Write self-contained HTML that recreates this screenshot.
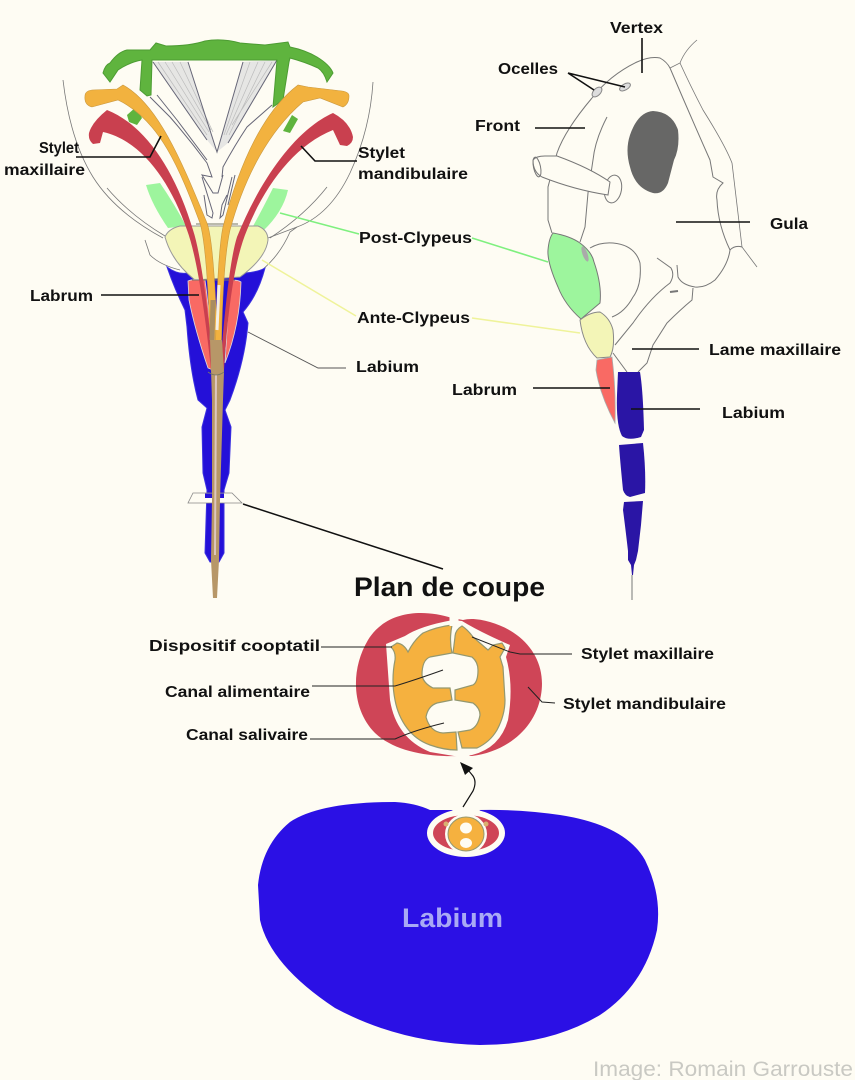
<!DOCTYPE html>
<html><head><meta charset="utf-8"><style>
html,body{margin:0;padding:0;background:#fefcf3}
svg{display:block}
text{font-family:"Liberation Sans",sans-serif;font-weight:bold;font-size:16px;fill:#111}
</style></head><body>
<svg width="855" height="1080" viewBox="0 0 855 1080" xmlns="http://www.w3.org/2000/svg">
<rect width="855" height="1080" fill="#fefcf3"/>

<!-- LEFT: outer arcs -->
<g fill="none" stroke="#777" stroke-width="0.8">
<path d="M63 80 Q70 140 93 177 Q115 212 163 238"/>
<path d="M107 188 Q130 215 165 236"/>
<path d="M145 240 L150 255 Q160 265 180 270"/>
<path d="M373 82 Q370 130 350 173 Q330 215 297 227 L268 238"/>
<path d="M327 187 Q305 215 270 238"/>
<path d="M297 227 L290 232 Q280 255 262 270"/>
</g>

<!-- blue labium, left -->
<path d="M167 267 Q178 275 188 273 L245 273 Q258 272 265 268 Q258 295 243 312 L248 323 Q245 360 230 400 L225 410 L231 427 L229 473 L224 490 L224 553 L219 562 L210 562 L205 553 L207 490 L203 473 L202 427 L207 408 L198 400 Q190 370 187 327 L185 310 Q175 290 167 267Z" fill="#2410d8" stroke="#3a30e0" stroke-width="1"/>

<!-- post clypeus left -->
<path d="M146 185 L160 183 Q175 205 186 226 L168 228 Q152 205 146 185Z" fill="#9df59d"/>
<path d="M288 190 L273 188 Q262 210 252 228 L263 231 Q283 212 288 190Z" fill="#9df59d"/>
<!-- ante clypeus -->
<path d="M165 237 Q168 229 180 226 L258 226 Q268 230 268 240 Q266 258 240 277 L195 280 Q172 262 165 237Z" fill="#f3f5b7" stroke="#999" stroke-width="1"/>

<!-- labrum left -->
<path d="M188 281 Q196 278 205 280 Q210 315 213 370 L208 368 Q195 330 189 300Z" fill="#f96a64" stroke="#ddd" stroke-width="0.8"/>
<path d="M230 281 Q236 279 241 282 Q240 325 225 363 Z" fill="#f96a64" stroke="#ddd" stroke-width="0.8"/>

<!-- fans -->
<path d="M153 62 L188 62 L217 152 L207 140 Z" fill="#e6e6e4"/>
<path d="M243 62 L277 60 L228 143 L217 152 Z" fill="#e6e6e4"/>
<g stroke="#bcbcbc" stroke-width="0.7" fill="none">
<path d="M158 62 L207 135M165 62 L209 132M172 62 L211 130M180 62 L213 132"/>
<path d="M250 62 L224 135M258 62 L226 135M265 62 L229 135M272 62 L232 125"/>
</g>
<g fill="none" stroke="#667" stroke-width="1">
<path d="M188 62 L217 152 L243 62"/>
<path d="M153 62 L207 140"/>
<path d="M277 60 L228 143"/>
<path d="M150 97 L170 117 Q190 140 207 163 L212 177 L202 175 L213 193 L218 193 L223 175 L222 177 L223 167 Q235 145 247 127 L272 105"/>
<path d="M157 95 L177 120 L207 160"/>
<path d="M202 177 L213 213 L212 218 L207 215 L204 195"/>
<path d="M232 177 L223 215 L220 218 L222 205 L227 195"/>
<path d="M235 175 L228 205"/>
<path d="M196 224 L238 224M192 280 L235 280" stroke="#776" />
</g>

<!-- green stubs -->
<path d="M127 115 L136 107 L142 118 L137 125 L129 122Z" fill="#5fb43e"/>
<path d="M283 131 L292 115 L298 119 L290 133Z" fill="#5fb43e"/>
<!-- green -->
<path d="M150 50 L156 43 L166 46 Q190 46 205 41 Q222 38 240 43 L265 45 L288 42 L290 47 Q305 50 317 57 Q330 65 333 73 L327 82 Q324 72 318 68 Q305 62 290 58 L289 62 L283 100 L273 107 L277 60 L152 60 L151 95 L147 96 L140 90 L142 60 Q130 62 118 70 L110 82 L103 73 Q105 65 110 63 Q118 52 127 50Z" fill="#5fb43e" stroke="#4d9c33" stroke-width="1"/>

<!-- orange stylets -->
<path d="M85 96 Q85 91 92 90 L117 89 L123 85 C160 105 185 170 207 223 Q215 245 218 370 L211 370 Q208 250 200 223 C180 170 160 120 118 100 L92 107 Q84 105 85 96Z" fill="#f2b23f" stroke="#c9983f" stroke-width="0.6"/>
<path d="M349 96 Q349 92 342 91 L308 87 L298 85 C265 110 240 160 223 227 Q217 255 215 370 L221 370 Q222 265 230 230 C245 175 270 130 303 102 L320 98 L343 107 Q349 104 349 96Z" fill="#f2b23f" stroke="#c9983f" stroke-width="0.6"/>
<!-- red stylets -->
<path d="M89 133 Q92 122 107 110 C145 125 175 170 193 230 Q203 260 214 370 L211 370 Q200 265 187 230 C170 180 140 140 103 132 L100 143 L93 144 Q88 140 89 133Z" fill="#c9404f"/>
<path d="M353 137 Q350 122 333 113 C295 130 260 180 237 237 Q228 265 220 370 L224 370 Q230 270 247 230 C265 185 295 145 333 130 L340 145 L347 146 Q353 143 353 137Z" fill="#c9404f"/>
<path d="M213 300 L212 340" stroke="#a98d62" stroke-width="5" fill="none"/>
<path d="M219 285 L217 330" stroke="#f4efe5" stroke-width="3" fill="none"/>

<!-- cut plane -->
<path d="M193 493 L232 493 L242 503 L188 503Z" fill="#fefcf3" stroke="#888" stroke-width="0.8"/>
<path d="M205 493.5 L224 493.5 L224 498 L205 498Z" fill="#2410d8"/>

<!-- central tube -->
<path d="M210 340 L222 340 L224 372 L223 400 L220 500 L219 560 L217 598 L213 598 L211 560 L212 500 L212 400 Z" fill="#b79768"/>
<path d="M216 375 L215 555" stroke="#ddc6c0" stroke-width="2" fill="none"/>
<path d="M208 372 Q216 378 224 372" fill="none" stroke="#776" stroke-width="0.8"/>

<!-- HEAD -->
<g fill="none" stroke="#777" stroke-width="1">
<path d="M592 98 Q610 75 637 62 Q650 56 660 58 Q667 62 670 68 Q690 115 710 160 L713 177 L723 183 Q715 190 717 200 Q718 225 730 250 Q728 265 715 280 Q705 288 695 287 Q682 285 678 277 L677 265"/>
<path d="M592 98 Q565 130 557 153 L548 187 L548 220 L552 233"/>
<path d="M607 117 Q595 140 593 160 L588 193 L585 227 L580 242"/>
<path d="M670 68 L680 63 Q685 50 697 40" stroke-width="0.8"/>
<path d="M680 63 Q690 85 703 110 Q725 145 732 163 L742 247 L757 267" stroke-width="0.8"/>
<path d="M730 250 Q735 245 742 247"/>
<path d="M590 248 Q600 242 613 243 Q635 245 640 263 Q642 285 633 297 Q625 312 612 317"/>
<path d="M657 258 L671 268 Q675 275 670 283 Q650 298 633 323 L615 345"/>
<path d="M693 288 L692 300 Q680 310 667 323 L653 345 L647 363 L638 372"/>
<path d="M670 292 L678 291" stroke-width="2"/>
<path d="M613 353 L627 372"/>
</g>
<!-- antenna -->
<ellipse cx="613" cy="189" rx="8.5" ry="14" transform="rotate(10 613 189)" fill="#fefcf3" stroke="#777"/>
<path d="M533 160 Q536 156 545 156 L557 156 Q590 168 610 182 L608 195 Q575 190 542 177 Q533 172 533 160Z" fill="#fefcf3" stroke="#777"/>
<ellipse cx="537" cy="167" rx="3.5" ry="10" fill="none" stroke="#777" transform="rotate(-12 537 167)"/>
<!-- eye -->
<path d="M653 111 Q672 112 678 130 Q680 148 674 160 L668 183 Q663 195 653 193 Q635 188 630 167 Q625 150 630 135 Q638 112 653 111Z" fill="#676766"/>
<!-- ocelli -->
<ellipse cx="625" cy="87" rx="6" ry="3" transform="rotate(-30 625 87)" fill="#ddd" stroke="#888"/>
<ellipse cx="597" cy="92" rx="6" ry="3.5" transform="rotate(-45 597 92)" fill="#ddd" stroke="#888"/>
<!-- post clypeus -->
<path d="M553 233 Q570 236 580 243 Q592 252 594 262 Q602 285 600 303 L581 319 Q565 305 558 287 Q547 262 548 250 Q549 238 553 233Z" fill="#9df59d" stroke="#777"/>
<ellipse cx="585" cy="254" rx="2.5" ry="8" transform="rotate(-20 585 254)" fill="#aaa"/>
<!-- ante clypeus -->
<path d="M580 320 Q590 312 600 312 Q610 318 613 330 Q615 348 610 357 L597 358 Q583 345 580 320Z" fill="#f3f5b7" stroke="#888"/>
<!-- labrum -->
<path d="M597 360 L612 357 Q616 390 615 423 Q600 395 596 370Z" fill="#f96a64" stroke="#aaa" stroke-width="0.8"/>
<!-- labium right -->
<path d="M618 372 L640 372 Q643 390 644 430 L641 437 Q628 441 622 436 Q616 425 617 395Z" fill="#2a15a5"/>
<path d="M619 445 L643 443 Q646 470 645 493 L630 497 Q625 496 623 490 Q620 460 619 445Z" fill="#2a15a5"/>
<path d="M624 502 L643 501 L641 525 L638 551 L628 551 Q625 525 623 510Z" fill="#2a15a5"/>
<path d="M628 551 L638 551 L636 560 L634 565 L633 575 L632 575 L631 565 L628 560Z" fill="#2a15a5"/>
<path d="M632 575 L632 600" stroke="#777" stroke-width="1"/>

<!-- colored connectors -->
<path d="M280 213 L359 234" stroke="#7ff07f" stroke-width="1.6" fill="none"/>
<path d="M472 238 L548 262" stroke="#7ff07f" stroke-width="1.6" fill="none"/>
<path d="M262 260 L356 316" stroke="#eff39a" stroke-width="1.6" fill="none"/>
<path d="M472 318 L580 333" stroke="#eff39a" stroke-width="1.6" fill="none"/>

<!-- black leaders -->
<g fill="none" stroke="#111" stroke-width="1.6">
<path d="M76 157 L150 157 L161 136"/>
<path d="M301 146 L315 161 L357 161"/>
<path d="M101 295 L199 295"/>
<path d="M642 38 L642 73"/>
<path d="M568 73 L625 87 M568 73 L594 90"/>
<path d="M535 128 L585 128"/>
<path d="M676 222 L750 222"/>
<path d="M632 349 L699 349"/>
<path d="M533 388 L610 388"/>
<path d="M631 409 L700 409"/>
<path d="M243 504 L443 569" stroke-width="1.5"/>
</g>
<path d="M248 332 L318 368 L346 368" fill="none" stroke="#555" stroke-width="0.9"/>

<!-- CROSS SECTION -->
<path d="M452 618 C420 608 385 612 368 640 C350 670 352 710 375 733 C395 752 430 757 458 756 L472 756 C505 752 535 730 541 695 C547 660 525 632 490 622 C480 619 470 618 463 620Z" fill="#cf4557"/>
<path d="M453 620 Q420 626 405 636 L386 644 L390 700 Q396 738 430 752 L460 757 L472 755 Q500 748 508 720 Q514 685 506 657 L510 645 Q480 632 462 621Z" fill="#fefcf3"/>
<path d="M452 625 Q436 627 423 633 Q414 640 408 652 Q404 644 397 643 L391 647 Q396 652 395 660 Q391 680 395 700 Q398 716 407 728 Q416 740 430 745 Q444 750 457 750 L456 732 L443 733 Q430 732 426 717 Q428 706 437 703 L452 700 L450 688 L433 688 Q423 683 422 675 Q422 660 430 657 L452 653 Q449 640 452 625Z" fill="#f5b13f" stroke="#94986f" stroke-width="1.2"/>
<path d="M462 626 Q455 630 455 637 L453 653 L472 657 Q478 662 478 670 Q478 682 473 685 L455 690 L455 700 L473 703 Q480 708 480 715 Q478 727 470 730 L458 732 L462 748 L477 748 Q490 742 497 730 Q505 715 505 700 L503 667 L500 657 L505 648 L502 643 L493 645 L488 650 L473 637 Q468 630 462 626Z" fill="#f5b13f" stroke="#94986f" stroke-width="1.2"/>
<path d="M454 610 L454 626 M465 750 L465 762" stroke="#fefcf3" stroke-width="9" fill="none"/>

<g fill="none" stroke="#222" stroke-width="1">
<path d="M321 647 L392 647" stroke-width="1.1"/>
<path d="M312 686 L395 686 Q415 680 443 670"/>
<path d="M310 739 L395 739 Q415 730 444 723"/>
<path d="M472 637 L510 652 L520 654 L572 654" />
<path d="M528 687 L542 702 L555 703"/>
</g>

<!-- BIG LABIUM -->
<path d="M258 885 Q262 845 290 822 Q320 802 395 802 Q415 803 430 810 L455 810 L478 810 Q520 809 560 815 Q625 825 645 860 Q662 895 657 930 Q645 985 600 1015 Q550 1045 480 1045 Q400 1043 335 1008 Q270 965 260 920Z" fill="#2b10e5"/>
<ellipse cx="466" cy="833" rx="39" ry="24" fill="#fefcf3"/>
<path d="M455 800 L478 800 L480 812 L452 812Z" fill="#fefcf3"/>
<ellipse cx="466" cy="833" rx="33" ry="18" fill="#cf4557"/>
<ellipse cx="466" cy="834" rx="21" ry="20" fill="#fefcf3"/>
<ellipse cx="466" cy="834" rx="18" ry="17" fill="#f5b13f" stroke="#94986f"/>
<ellipse cx="466" cy="828" rx="6" ry="5.5" fill="#fefcf3"/>
<ellipse cx="466" cy="843" rx="6" ry="5" fill="#fefcf3"/>
<circle cx="446" cy="824" r="2.5" fill="#d9b070"/>
<circle cx="486" cy="824" r="2.5" fill="#d9b070"/>

<!-- arrow -->
<path d="M463 807 L473 791 Q477 782 473 776 Q470 772 466 768" fill="none" stroke="#111" stroke-width="1.2"/>
<path d="M460 762 L473 768 L465 775Z" fill="#111"/>

<!-- labels -->
<text x="39" y="153" textLength="40" lengthAdjust="spacingAndGlyphs">Stylet</text>
<text x="4" y="175" textLength="81" lengthAdjust="spacingAndGlyphs">maxillaire</text>
<text x="358" y="158" textLength="47" lengthAdjust="spacingAndGlyphs">Stylet</text>
<text x="358" y="179" textLength="110" lengthAdjust="spacingAndGlyphs">mandibulaire</text>
<text x="359" y="243" textLength="113" lengthAdjust="spacingAndGlyphs">Post-Clypeus</text>
<text x="357" y="323" textLength="113" lengthAdjust="spacingAndGlyphs">Ante-Clypeus</text>
<text x="30" y="301" textLength="63" lengthAdjust="spacingAndGlyphs">Labrum</text>
<text x="356" y="372" textLength="63" lengthAdjust="spacingAndGlyphs">Labium</text>
<text x="610" y="33" textLength="53" lengthAdjust="spacingAndGlyphs">Vertex</text>
<text x="498" y="74" textLength="60" lengthAdjust="spacingAndGlyphs">Ocelles</text>
<text x="475" y="131" textLength="45" lengthAdjust="spacingAndGlyphs">Front</text>
<text x="770" y="229" textLength="38" lengthAdjust="spacingAndGlyphs">Gula</text>
<text x="709" y="355" textLength="132" lengthAdjust="spacingAndGlyphs">Lame maxillaire</text>
<text x="452" y="395" textLength="65" lengthAdjust="spacingAndGlyphs">Labrum</text>
<text x="722" y="418" textLength="63" lengthAdjust="spacingAndGlyphs">Labium</text>
<text x="149" y="651" textLength="171" lengthAdjust="spacingAndGlyphs">Dispositif cooptatil</text>
<text x="165" y="697" textLength="145" lengthAdjust="spacingAndGlyphs">Canal alimentaire</text>
<text x="186" y="740" textLength="122" lengthAdjust="spacingAndGlyphs">Canal salivaire</text>
<text x="581" y="659" textLength="133" lengthAdjust="spacingAndGlyphs">Stylet maxillaire</text>
<text x="563" y="709" textLength="163" lengthAdjust="spacingAndGlyphs">Stylet mandibulaire</text>
<text x="354" y="596" textLength="191" lengthAdjust="spacingAndGlyphs" style="font-size:27px">Plan de coupe</text>
<text x="402" y="927" textLength="101" lengthAdjust="spacingAndGlyphs" style="font-size:27px;fill:#a9a9f5">Labium</text>
<text x="593" y="1076" textLength="260" lengthAdjust="spacingAndGlyphs" style="font-size:21px;font-weight:normal;fill:#c9c9c3">Image: Romain Garrouste</text>
</svg>
</body></html>
